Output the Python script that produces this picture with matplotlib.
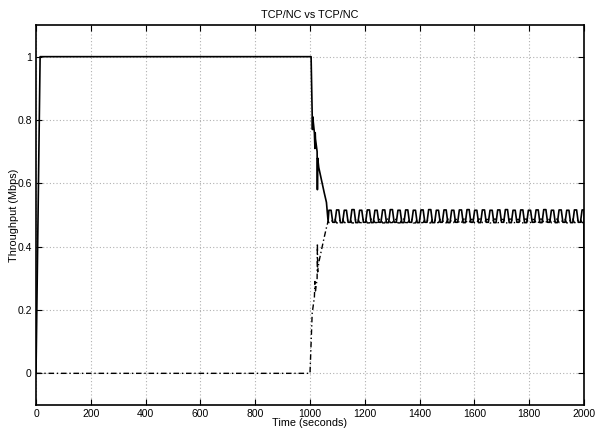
import numpy as np
import matplotlib.pyplot as plt

plt.rcParams['font.family'] = ['Liberation Sans', 'DejaVu Sans']

# flow 1 (solid): start-up, plateau, decline after the second flow joins
t1 = [0, 15, 1000, 1004, 1008, 1009, 1010, 1016, 1018, 1019, 1020, 1026, 1027, 1028,
      1032, 1042, 1052, 1060, 1066]
y1 = [0.0, 1.0, 1.0, 1.0, 0.81, 0.77, 0.81, 0.76, 0.71, 0.76, 0.74, 0.70, 0.58, 0.68,
      0.65, 0.61, 0.57, 0.54, 0.48]

# flow 2 (dash-dot): idle, then ramping up after t=1000
t2 = [0, 1000, 1004, 1008, 1016, 1018, 1020, 1026, 1027, 1028, 1032, 1042, 1052, 1060, 1066]
y2 = [0.0, 0.0, 0.1, 0.19, 0.24, 0.29, 0.26, 0.30, 0.41, 0.32, 0.35, 0.39, 0.43, 0.46, 0.48]

# steady-state oscillation, one level per half period
osc_start = 1066
osc_half = 14
osc1 = [0.515, 0.477, 0.516, 0.476, 0.515, 0.477, 0.517, 0.476, 0.515, 0.477,
        0.516, 0.476, 0.515, 0.477, 0.516, 0.476, 0.517, 0.477, 0.515, 0.476,
        0.516, 0.477, 0.515, 0.476, 0.516, 0.477, 0.517, 0.476, 0.515, 0.477,
        0.516, 0.476, 0.515, 0.477, 0.516, 0.476, 0.517, 0.477, 0.515, 0.476,
        0.516, 0.477, 0.515, 0.476, 0.516, 0.477, 0.517, 0.476, 0.515, 0.477,
        0.516, 0.476, 0.515, 0.477, 0.516, 0.476, 0.517, 0.477, 0.515, 0.476,
        0.516, 0.477, 0.515, 0.476, 0.516, 0.477, 0.516]
osc2 = [0.476, 0.486, 0.475, 0.487, 0.476, 0.486, 0.475, 0.487, 0.476, 0.486,
        0.475, 0.487, 0.476, 0.486, 0.475, 0.487, 0.476, 0.486, 0.475, 0.487,
        0.476, 0.486, 0.475, 0.487, 0.476, 0.486, 0.475, 0.487, 0.476, 0.486,
        0.475, 0.487, 0.476, 0.486, 0.475, 0.487, 0.476, 0.486, 0.475, 0.487,
        0.476, 0.486, 0.475, 0.487, 0.476, 0.486, 0.475, 0.487, 0.476, 0.486,
        0.475, 0.487, 0.476, 0.486, 0.475, 0.487, 0.476, 0.486, 0.475, 0.487,
        0.476, 0.486, 0.475, 0.487, 0.476, 0.486, 0.476]
t_end = 2000
y1_end = 0.0

t_osc = osc_start + osc_half * np.arange(len(osc1))

fig = plt.figure(figsize=(5.95, 4.28), dpi=100)
ax = fig.add_axes([36/595, 23/428, 548/595, 380/428])

# square-ish wave: hold each level, short ramp to the next
def wave(ts, vals):
    xs, ys = [], []
    for t, v in zip(ts, vals):
        xs += [t + 3, t + osc_half - 3]
        ys += [v, v]
    return xs, ys

wx1, wy1 = wave(t_osc, osc1)
wx2, wy2 = wave(t_osc, osc2)

ax.plot(t1 + wx1 + [t_end, t_end], y1 + wy1 + [wy1[-1], y1_end],
        color='black', lw=1.2)
ax.plot(t2 + wx2, y2 + wy2, color='black', lw=1.0, linestyle=(0, (4, 2, 1, 2)))

ax.set_xlim(0, 2000)
ax.set_ylim(-0.1, 1.1)
ax.set_xticks(np.arange(0, 2001, 200))
ax.set_yticks([0, 0.2, 0.4, 0.6, 0.8, 1.0])
ax.set_yticklabels(['0', '0.2', '0.4', '0.6', '0.8', '1'])
ax.grid(True, linestyle=(0, (1, 2)), color='#b0b0b0', lw=0.8)
ax.tick_params(direction='in', labelsize=7.5, length=4, top=True, right=True,
               labeltop=False, labelright=False, pad=3)
for s in ax.spines.values():
    s.set_linewidth(1.2)

ax.set_title('TCP/NC vs TCP/NC', fontsize=7.8, pad=5)
ax.set_xlabel('Time (seconds)', fontsize=7.8, labelpad=-1)
ax.set_ylabel('Throughput (Mbps)', fontsize=7.8, labelpad=-1)

fig.savefig('out.png', dpi=100)
